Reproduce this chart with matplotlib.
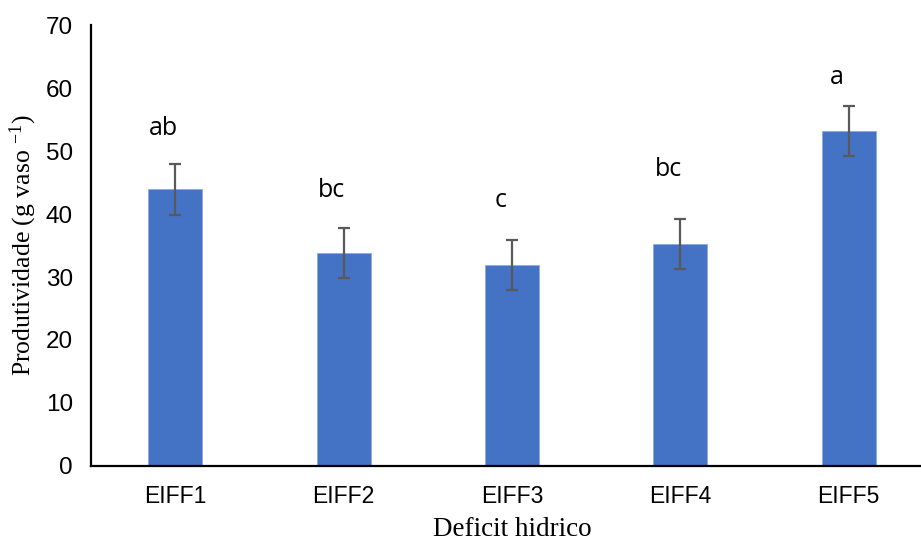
import matplotlib
matplotlib.use("Agg")
import matplotlib.pyplot as plt
import numpy as np

plt.rcParams["mathtext.fontset"] = "custom"
plt.rcParams["mathtext.rm"] = "Liberation Serif"
plt.rcParams["mathtext.it"] = "Liberation Serif:italic"

categories = ["EIFF1", "EIFF2", "EIFF3", "EIFF4", "EIFF5"]
values = [43.9, 33.8, 31.9, 35.3, 53.2]
errors = [4.0, 4.0, 4.0, 3.95, 3.95]
letters = ["ab", "bc", "c", "bc", "a"]
letter_y = [53.6, 43.8, 42.2, 47.0, 61.6]

fig = plt.figure(figsize=(9.21, 5.44), dpi=100)
ax = fig.add_axes([0.0988, 0.1434, 0.9142, 0.8106])

x = np.arange(len(categories))
ax.bar(x, values, width=0.32, color="#4472C4", edgecolor="#8FAADC", linewidth=0.6, zorder=2)
ax.errorbar(x, values, yerr=errors, fmt="none", ecolor="#595959", elinewidth=1.6,
            capsize=4.5, capthick=1.6, zorder=3)

for xi, lab, ly in zip(x, letters, letter_y):
    ax.text(xi - 0.07, ly, lab, ha="center", va="center", fontsize=18,
            family="Open Sans", color="black")

ax.set_xlim(-0.5, 4.5)
ax.set_ylim(0, 70)
ax.set_yticks(range(0, 71, 10))
ax.set_xticks(x)
ax.set_xticklabels(categories)
ax.tick_params(axis="y", length=0, labelsize=17.5, pad=13)
ax.tick_params(axis="x", length=0, labelsize=16.5, pad=14)
for lbl in ax.get_xticklabels() + ax.get_yticklabels():
    lbl.set_family("Liberation Sans")

for s in ["top", "right"]:
    ax.spines[s].set_visible(False)
for s in ["left", "bottom"]:
    ax.spines[s].set_linewidth(1.6)
    ax.spines[s].set_color("black")

ax.set_ylabel("Produtividade (g vaso $^{\\mathrm{-1}}$)", family="Liberation Serif",
              fontsize=18.5, labelpad=5)
ax.set_xlabel("Deficit hidrico", family="Liberation Serif", fontsize=19.5, labelpad=6)

fig.savefig("out.png", dpi=100)
